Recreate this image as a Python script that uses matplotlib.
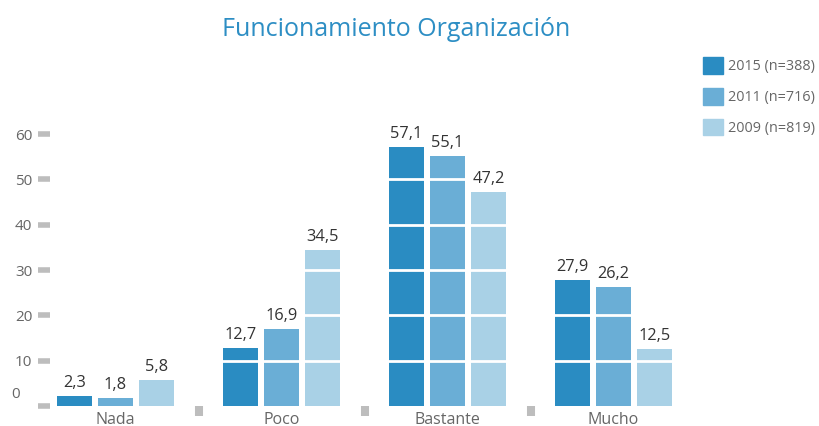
import numpy as np
import matplotlib.pyplot as plt
from matplotlib.patches import Patch

plt.rcParams['font.family'] = ['Open Sans', 'DejaVu Sans']

categories = ['Nada', 'Poco', 'Bastante', 'Mucho']
series_labels = ['2015 (n=388)', '2011 (n=716)', '2009 (n=819)']
values_2015 = [2.3, 12.7, 57.1, 27.9]
values_2011 = [1.8, 16.9, 55.1, 26.2]
values_2009 = [5.8, 34.5, 47.2, 12.5]
y_ticks = [10, 20, 30, 40, 50, 60]

colors = ['#2a8cc2', '#6aaed6', '#a9d1e6']
grey = '#bdbdbd'
text_grey = '#666666'

fig = plt.figure(figsize=(8.19, 4.26), dpi=100)
ax = fig.add_axes([38 / 819, 20 / 426, 662 / 819, 299 / 426])

x = np.arange(len(categories))
step = 0.247
width = 0.212
for i, vals in enumerate([values_2015, values_2011, values_2009]):
    pos = x + (i - 1) * step
    ax.bar(pos, vals, width=width, color=colors[i], zorder=1)
    for px, v in zip(pos, vals):
        ax.text(px, v + 1.1, f'{v:.1f}'.replace('.', ','), ha='center', va='bottom',
                fontsize=11.8, color='#333333')

# white bands cutting through the bars
ax.hlines(y_ticks, -0.38, 3.45, colors='white', linewidth=2, zorder=2)

ax.set_xlim((38 - 115.5) / 166, (700 - 115.5) / 166)
ax.set_ylim(0, 66)

for s in ax.spines.values():
    s.set_visible(False)

ax.set_yticks([0] + y_ticks)
ax.set_yticklabels([''] + [str(t) for t in y_ticks])
ax.tick_params(axis='y', direction='in', length=8.6, width=4, color=grey,
               pad=4, labelsize=11, labelcolor=text_grey)
ax.text(-0.575, 2.6, '0', ha='right', va='center', fontsize=11, color=text_grey)

ax.set_xticks(x)
ax.set_xticklabels(categories)
ax.tick_params(axis='x', which='major', length=0, pad=4, labelsize=11.5, labelcolor=text_grey)
ax.set_xticks([0.5, 1.5, 2.5], minor=True)
ax.tick_params(axis='x', which='minor', direction='out', length=7.5, width=5.8, color=grey)

fig.text(396 / 819, 1 - 29 / 426, 'Funcionamiento Organización', ha='center', va='center',
         fontsize=18, color='#2d8ec4')

handles = [Patch(color=c) for c in colors]
fig.legend(handles, series_labels, loc='upper left', bbox_to_anchor=(690 / 819, 1 - 44 / 426),
           frameon=False, fontsize=10.4, labelcolor=text_grey, handlelength=1.35,
           handleheight=1.4, handletextpad=0.4, labelspacing=0.95)

fig.savefig('out.png', dpi=100)
